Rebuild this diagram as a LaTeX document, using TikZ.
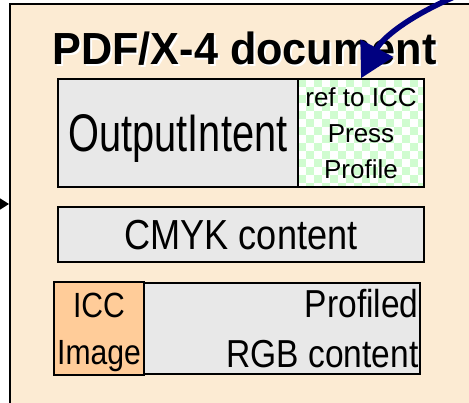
\documentclass[tikz,border=0pt]{standalone}
\usepackage{fontspec}
\setmainfont{Liberation Sans}
\newfontfamily\condsans[FakeStretch=0.75]{Liberation Sans}
\newfontfamily\narrowsans[FakeStretch=0.86]{Liberation Sans}
\newfontfamily\titlesans[FakeStretch=0.96]{Liberation Sans}
\definecolor{docbeige}{RGB}{252,235,211}
\definecolor{boxgray}{RGB}{232,232,232}
\definecolor{checkgreen}{RGB}{208,252,208}
\definecolor{iccorange}{RGB}{255,204,153}
\definecolor{arrownavy}{RGB}{0,0,128}
\usetikzlibrary{arrows.meta,positioning}

\begin{document}
\begin{tikzpicture}[x=1pt, y=-1pt,
    part/.style={draw, line width=1.5pt, inner sep=0pt, text depth=0pt},
    graypart/.style={part, fill=boxgray},
    titlefont/.style={font=\fontsize{45}{50}\titlesans\bfseries}]
    \path[use as bounding box] (0,0) rectangle (469,403);
    \clip (0,0) rectangle (469,403);

    % document frame
    \node[draw, line width=2pt, fill=docbeige, minimum width=470, minimum height=416, inner sep=0pt] (doc) at (245,212) {};
    \node[titlefont, text=white, anchor=base] (titleshade) at (246.5,67) {PDF/X-4 document};
    \node[titlefont, anchor=base] (title) at (244.5,65) {PDF/X-4 document};

    % output intent with checkered profile reference
    \node[graypart, minimum width=240, minimum height=108, font=\fontsize{53}{60}\condsans] (intent) at (178,133) {OutputIntent};
    \fill[white] (298,79) rectangle (424,187);
    \begin{scope}
        \clip (298,79) rectangle (424,187);
        \foreach \i in {0,...,15}
            \foreach \j in {0,...,13}{
                \pgfmathtruncatemacro{\sq}{mod(\i+\j,2)}
                \ifnum\sq=0 \fill[checkgreen] (298+8*\i,79+8*\j) rectangle ++(8,8); \fi
            }
    \end{scope}
    \node[part, minimum width=126, minimum height=108, align=center, font=\fontsize{26}{36}\selectfont] (ref) at (361,133) {ref to ICC\\Press\\Profile};

    % plain CMYK content
    \node[graypart, minimum width=366, minimum height=55, font=\fontsize{42}{48}\narrowsans] (cmyk) at (241,234.5) {CMYK content};

    % profiled RGB content with its ICC image
    \node[graypart, minimum width=276, minimum height=91] (rgb) at (282,328.5) {};
    \node[anchor=east, inner sep=0pt, text depth=0pt, align=right, font=\fontsize{39}{50}\narrowsans] (rgbtext) [left=2pt of rgb.east] {Profiled\\RGB content};
    \node[part, line width=2pt, fill=iccorange, minimum width=90, minimum height=93, align=center, font=\fontsize{35}{47}\narrowsans] (icc) at (99,328.5) {ICC\\Image};

    % incoming arrows
    \coordinate (feed) at (-30,204);
    \draw[line width=1.5pt, -{Triangle[length=9pt,width=11pt]}] (feed) -- (feed -| doc.west);
    \coordinate (source) at (495,-18);
    \draw[arrownavy, line width=5.5pt, -{Triangle[length=34pt,width=36pt]}] (source) .. controls (430,2) and (385,33) .. (ref.north);
\end{tikzpicture}
\end{document}
